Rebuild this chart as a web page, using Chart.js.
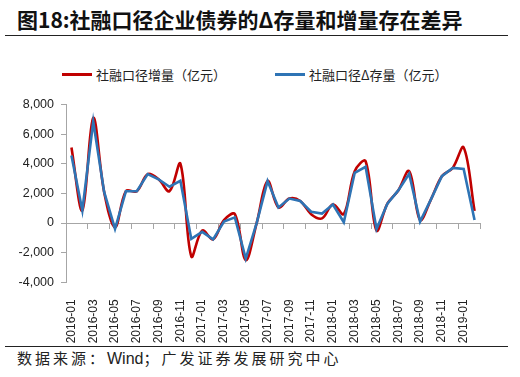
<!DOCTYPE html>
<html>
<head>
<meta charset="utf-8">
<script src="https://cdn.jsdelivr.net/npm/chart.js@4.4.1/dist/chart.umd.min.js"></script>
<style>
  body { margin: 0; background: #fff; width: 520px; height: 377px; overflow: hidden; position: relative; font-family: "Noto Sans CJK SC", sans-serif; }
  #title { position: absolute; left: 17px; top: 5px; font-size: 21px; font-weight: bold; color: #111; white-space: nowrap; line-height: 28px; }
  #topRule { position: absolute; left: 5px; top: 35px; width: 503px; height: 1px; background: #222; }
  #legend { position: absolute; top: 66px; left: 0; width: 520px; height: 16px; font-size: 13px; color: #222; }
  .item { position: absolute; top: 0; display: flex; align-items: center; height: 16px; white-space: nowrap; }
  .swatch { width: 30px; height: 3px; margin-right: 4px; }
  #wrap { position: absolute; left: 0; top: 90px; width: 520px; height: 255px; }
  #bottomRule { position: absolute; left: 5px; top: 346px; width: 503px; height: 1px; background: #222; }
  #source { position: absolute; left: 17px; top: 348px; font-size: 15px; letter-spacing: 3px; color: #222; white-space: nowrap; line-height: 20px; }
  #source .en { font-family: "Liberation Sans", Arial, sans-serif; font-size: 16px; letter-spacing: 0; }
</style>
</head>
<body>
<div id="title">图18:社融口径企业债券的Δ存量和增量存在差异</div>
<div id="topRule"></div>
<div id="legend"></div>
<div id="wrap"><canvas id="chart" width="520" height="255"></canvas></div>
<div id="bottomRule"></div>
<div id="source">数据来源：<span class="en">Wind</span>；广发证券发展研究中心</div>
<script>
  // monthly data, 2016-01 .. 2019-02
  const months = [
    '2016-01','2016-02','2016-03','2016-04','2016-05','2016-06','2016-07','2016-08','2016-09','2016-10','2016-11','2016-12',
    '2017-01','2017-02','2017-03','2017-04','2017-05','2017-06','2017-07','2017-08','2017-09','2017-10','2017-11','2017-12',
    '2018-01','2018-02','2018-03','2018-04','2018-05','2018-06','2018-07','2018-08','2018-09','2018-10','2018-11','2018-12',
    '2019-01','2019-02'
  ];

  const flowValues = [
    5100, 850, 7100, 2100, -300, 2150, 2150, 3300, 2950, 2150, 4000, -2250,
    -500, -1100, 200, 600, -2500, 0, 2830, 1050, 1650, 1490, 600, 310,
    1270, 600, 3500, 4170, -500, 1310, 2200, 3500, 200, 1600, 3160, 3720,
    5100, 820
  ];

  const stockDeltaValues = [
    4550, 850, 6850, 2100, -400, 2150, 2150, 3300, 2950, 2450, 2850, -1070,
    -600, -1100, 100, 380, -2400, 0, 2830, 1050, 1650, 1490, 760, 640,
    1250, 50, 3390, 3790, -400, 1310, 2200, 3320, 100, 1600, 3160, 3720,
    3650, 200
  ];

  const seriesNames = ['社融口径增量（亿元）', '社融口径Δ存量（亿元）'];
  const seriesColors = ['#C00000', '#2E74B5'];
  const yTicks = [-4000, -2000, 0, 2000, 4000, 6000, 8000];

  const axisGray = '#A6A6A6';

  // legend
  const legendEl = document.getElementById('legend');
  const legendLeft = [62, 275];
  seriesNames.forEach((name, i) => {
    const item = document.createElement('div');
    item.className = 'item';
    item.style.left = legendLeft[i] + 'px';
    item.innerHTML = '<span class="swatch" style="background:' + seriesColors[i] + '"></span><span>' + name + '</span>';
    legendEl.appendChild(item);
  });

  const ctx = document.getElementById('chart').getContext('2d');

  new Chart(ctx, {
    type: 'line',
    data: {
      labels: months,
      datasets: [
        {
          label: seriesNames[0],
          data: flowValues,
          borderColor: seriesColors[0],
          borderWidth: 2.6,
          tension: 0.35,
          pointRadius: 0,
          fill: false,
          order: 2
        },
        {
          label: seriesNames[1],
          data: stockDeltaValues,
          borderColor: seriesColors[1],
          borderWidth: 2.6,
          tension: 0,
          pointRadius: 0,
          fill: false,
          order: 1
        }
      ]
    },
    options: {
      responsive: false,
      animation: false,
      layout: { padding: { left: 10, right: 40, top: 12.7, bottom: 0 } },
      plugins: {
        legend: { display: false },
        tooltip: { enabled: false }
      },
      scales: {
        x: {
          type: 'category',
          offset: true,
          border: { display: false },
          grid: { display: false, offset: true },
          ticks: {
            autoSkip: false,
            minRotation: 90,
            maxRotation: 90,
            padding: 9,
            color: '#222',
            font: { family: '"Liberation Sans", Arial, sans-serif', size: 12 },
            callback: function(val, idx) {
              return idx % 2 === 0 ? months[idx] : '';
            }
          },
          afterFit: function(scale) { scale.height = 62.7; }
        },
        x2: {
          type: 'category',
          labels: months,
          position: { y: 0 },
          offset: true,
          border: { display: true, color: axisGray, width: 1 },
          grid: {
            offset: true,
            drawOnChartArea: false,
            drawTicks: true,
            tickLength: 5,
            tickColor: function(c) {
              return (c.index === undefined || c.index % 2 === 0) ? axisGray : 'rgba(0,0,0,0)';
            }
          },
          ticks: { display: false, autoSkip: false }
        },
        y: {
          min: -4000,
          max: 8000,
          afterBuildTicks: function(scale) {
            scale.ticks = yTicks.map(v => ({ value: v }));
          },
          border: { display: true, color: axisGray, width: 1 },
          grid: { drawOnChartArea: false, drawTicks: true, tickLength: 5, tickColor: axisGray },
          ticks: {
            padding: 7,
            color: '#222',
            font: { family: '"Liberation Sans", Arial, sans-serif', size: 12.5 },
            callback: function(v) { return v.toLocaleString('en-US'); }
          },
          afterFit: function(scale) { scale.width = 56; }
        }
      }
    }
  });
</script>
</body>
</html>
